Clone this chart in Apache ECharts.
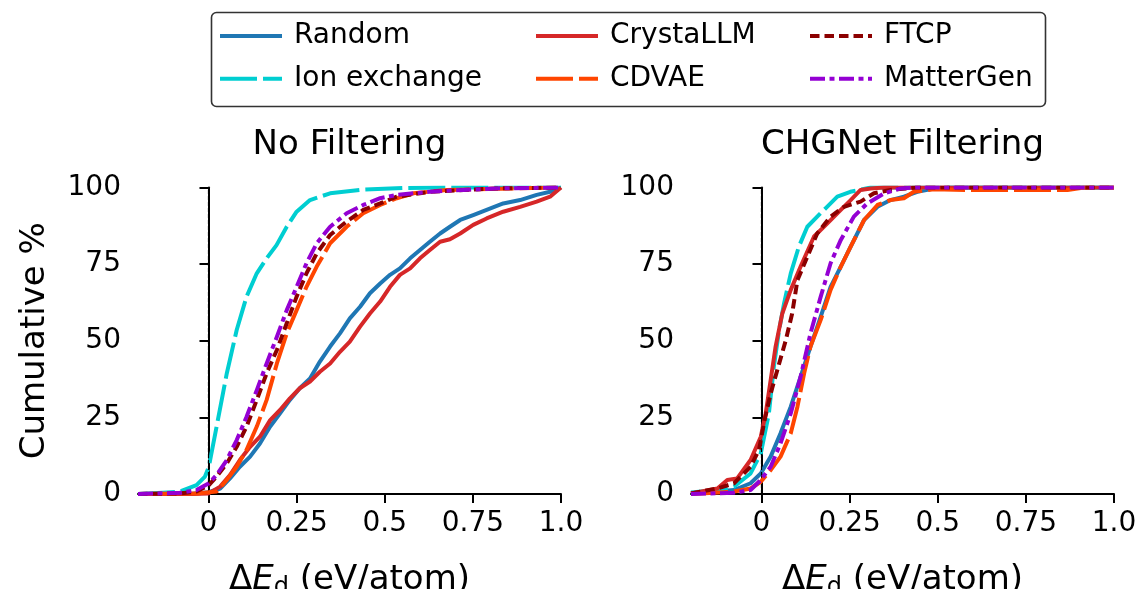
<!DOCTYPE html>
<html>
<head>
<meta charset="utf-8">
<script src="https://cdn.jsdelivr.net/npm/echarts@6/dist/echarts.min.js"></script>
<style>
html,body{margin:0;padding:0;background:#fff;}
#chart{width:1137px;height:589px;}
</style>
</head>
<body>
<div id="chart"></div>
<script>
// ---------- data ----------
const methods = ['Random', 'Ion exchange', 'CrystaLLM', 'CDVAE', 'FTCP', 'MatterGen'];
const panelTitles = ['No Filtering', 'CHGNet Filtering'];
const xTicks = [0, 0.25, 0.5, 0.75, 1.0];
const xTickLabels = ['0', '0.25', '0.5', '0.75', '1.0'];

// No Filtering panel: [ΔEd (eV/atom), cumulative %]
const noFiltRandom = [[-0.2,0],[-0.05,0],[0.001,0.6],[0.033,1.8],[0.061,5.1],[0.089,8.9],[0.118,12.2],[0.146,16.5],[0.175,22],[0.203,26.3],[0.231,30.7],[0.259,34.5],[0.288,37.7],[0.316,43.2],[0.345,48.1],[0.373,52.4],[0.401,57.3],[0.43,61.1],[0.458,65.5],[0.487,68.7],[0.515,71.5],[0.543,73.6],[0.572,76.9],[0.6,79.6],[0.628,82.3],[0.657,85],[0.685,87.2],[0.714,89.4],[0.751,91],[0.789,92.7],[0.836,94.8],[0.884,95.9],[0.931,97.6],[0.969,98.6],[1.0,100]];
const noFiltIon = [[-0.2,0],[-0.13,0.4],[-0.081,0.8],[-0.034,2.9],[-0.01,5.7],[0.001,8.9],[0.023,22],[0.052,39.4],[0.08,53.5],[0.108,64.4],[0.137,72],[0.165,76.9],[0.193,81.2],[0.222,87.2],[0.25,92.1],[0.288,95.9],[0.345,98.1],[0.44,99.3],[0.55,99.8],[0.7,100],[1.0,100]];
const noFiltCrysta = [[-0.2,0],[-0.05,0],[0.0,0.2],[0.033,2.4],[0.061,6.2],[0.089,11.1],[0.118,15.4],[0.146,18.7],[0.175,24.1],[0.203,27.4],[0.231,31.2],[0.259,34.5],[0.288,36.7],[0.316,39.9],[0.345,42.6],[0.373,46.4],[0.401,49.7],[0.43,54.6],[0.458,58.9],[0.487,62.8],[0.515,67.6],[0.543,71.5],[0.572,73.6],[0.6,76.9],[0.628,79.6],[0.657,82.3],[0.685,83.1],[0.714,85],[0.751,87.8],[0.789,89.9],[0.836,92.1],[0.884,93.7],[0.931,95.4],[0.969,97],[1.0,100]];
const noFiltCDVAE = [[-0.2,0],[-0.034,0.2],[0.023,0.8],[0.052,4.6],[0.08,8.9],[0.108,14.4],[0.137,22],[0.165,30.7],[0.194,42.6],[0.222,52.4],[0.25,60],[0.278,67.6],[0.307,74.2],[0.345,81.8],[0.392,87.2],[0.439,91.6],[0.487,94.3],[0.534,96.5],[0.581,98.1],[0.676,99.2],[0.865,99.7],[1.0,100]];
const noFiltFTCP = [[-0.2,0],[-0.08,0.2],[-0.034,0.8],[0.001,2.9],[0.023,5.7],[0.052,10],[0.08,15.4],[0.108,22],[0.137,30.7],[0.165,39.4],[0.194,47],[0.222,55.7],[0.25,64.4],[0.278,72],[0.307,78.5],[0.345,84.5],[0.392,88.9],[0.439,92.7],[0.487,94.8],[0.534,97],[0.628,98.6],[0.723,99.2],[0.817,99.7],[1.0,100]];
const noFiltMatterGen = [[-0.2,0],[-0.081,0.4],[-0.034,1.3],[0.001,3.5],[0.023,6.2],[0.052,11.1],[0.08,17.6],[0.108,25.2],[0.137,33.9],[0.165,42.6],[0.194,51.3],[0.222,60],[0.25,67.6],[0.278,75.3],[0.307,81.8],[0.345,87.2],[0.392,91.6],[0.439,94.3],[0.487,96.5],[0.534,97.6],[0.628,98.6],[0.723,99.2],[0.817,99.7],[1.0,100]];

// CHGNet Filtering panel
const chgRandom = [[-0.2,0.2],[-0.078,1.3],[-0.031,3.5],[-0.002,6.7],[0.026,12.2],[0.054,19.8],[0.083,28.5],[0.111,38.3],[0.139,48.1],[0.168,57.9],[0.196,67.6],[0.225,74.2],[0.253,80.7],[0.291,89.4],[0.329,93.7],[0.366,95.9],[0.404,97],[0.442,98.6],[0.489,99.7],[0.537,100],[1.0,100]];
const chgIon = [[-0.2,0.5],[-0.125,1.3],[-0.078,2.4],[-0.031,6.7],[-0.002,13.3],[0.021,26.3],[0.035,41.5],[0.05,53.5],[0.064,62.2],[0.083,72],[0.106,80.7],[0.13,87.2],[0.158,90.5],[0.186,93.7],[0.215,97],[0.252,98.6],[0.31,100],[1.0,100]];
const chgCrysta = [[-0.2,0.2],[-0.125,1.8],[-0.097,4.6],[-0.069,5.1],[-0.031,11.1],[-0.002,18.7],[0.012,26.3],[0.026,37.2],[0.04,48.1],[0.059,58.9],[0.083,66.6],[0.111,74.2],[0.149,84],[0.187,88.3],[0.225,92.7],[0.253,95.9],[0.281,99.2],[0.31,99.7],[0.348,100],[1.0,100]];
const chgCDVAE = [[-0.2,0],[-0.078,0.8],[-0.031,1.8],[-0.002,4],[0.026,7.8],[0.054,12.2],[0.083,19.8],[0.102,28.5],[0.121,39.4],[0.139,48.1],[0.168,56.8],[0.196,66.6],[0.225,74.2],[0.253,80.7],[0.291,89.4],[0.329,94.3],[0.366,95.9],[0.404,96.5],[0.432,98.6],[0.489,99.4],[0.584,99.2],[0.868,99.2],[0.915,100],[1.0,100]];
const chgFTCP = [[-0.2,0.2],[-0.125,1.8],[-0.078,3.5],[-0.031,8.9],[-0.007,14.4],[0.007,23.1],[0.026,32.8],[0.045,40.5],[0.069,50.2],[0.087,58.9],[0.102,69.8],[0.13,77.4],[0.158,85],[0.196,90.5],[0.234,93.7],[0.281,95.4],[0.319,98.1],[0.366,99.2],[0.442,100],[1.0,100]];
const chgMatterGen = [[-0.2,0],[-0.078,0.4],[-0.031,1.3],[-0.002,4.6],[0.026,8.9],[0.054,16.5],[0.083,26.3],[0.111,38.3],[0.139,52.4],[0.168,64.4],[0.196,75.3],[0.225,82.9],[0.262,90.5],[0.3,94.8],[0.348,98.1],[0.395,99.7],[0.442,100],[1.0,100]];

const panelData = [
  [noFiltRandom, noFiltIon, noFiltCrysta, noFiltCDVAE, noFiltFTCP, noFiltMatterGen],
  [chgRandom, chgIon, chgCrysta, chgCDVAE, chgFTCP, chgMatterGen]
];

// ---------- styles ----------
const colors = ['#1f77b4', '#00CED1', '#d62728', '#FF4500', '#8B0000', '#9400D3'];
const dashes = ['solid', [37, 6], 'solid', [37, 6], [9.5, 5], [15, 4.5, 5, 4.5]];
const FONT = 'DejaVu Sans';
const LW = 4;

const gridLefts = [138, 691];
const gridW = 423, gridTop = 187.5, gridH = 306.5;

const grids = gridLefts.map(l => ({left: l, top: gridTop, width: gridW, height: gridH, containLabel: false, outerBoundsMode: 'none'}));

const xAxes = [0, 1].map(i => ({
  type: 'value', gridIndex: i, min: -0.2, max: 1.0,
  name: '{a|Δ}{e|E}{s|d}{a| (eV/atom)}',
  nameLocation: 'middle', nameGap: 66,
  nameTextStyle: {
    fontFamily: FONT, fontSize: 34, color: '#000',
    rich: {
      a: {fontFamily: FONT, fontSize: 34, lineHeight: 40, color: '#000'},
      e: {fontFamily: FONT, fontSize: 34, lineHeight: 40, fontStyle: 'italic', color: '#000'},
      s: {fontFamily: FONT, fontSize: 24, lineHeight: 24, verticalAlign: 'bottom', color: '#000'}
    }
  },
  axisLine: {show: true, onZero: false, lineStyle: {color: '#000', width: 2}},
  axisTick: {show: true, length: 9, customValues: xTicks, lineStyle: {color: '#000', width: 2}},
  axisLabel: {
    show: true, customValues: xTicks, margin: 16, fontFamily: FONT, fontSize: 28, color: '#000',
    formatter: v => { const k = xTicks.indexOf(v); return k >= 0 ? xTickLabels[k] : ''; }
  },
  splitLine: {show: false}
}));

const yAxes = [0, 1].map(i => ({
  type: 'value', gridIndex: i, min: 0, max: 100, interval: 25,
  name: i === 0 ? 'Cumulative %' : '',
  nameLocation: 'middle', nameGap: 86,
  nameTextStyle: {fontFamily: FONT, fontSize: 34, color: '#000'},
  axisLine: {show: true, lineStyle: {color: '#000', width: 2}},
  axisTick: {show: true, length: 9, lineStyle: {color: '#000', width: 2}},
  axisLabel: {show: true, margin: 17, fontFamily: FONT, fontSize: 28, color: '#000'},
  splitLine: {show: false}
}));

const series = [];
for (let p = 0; p < 2; p++) {
  methods.forEach((m, k) => {
    const s = {
      type: 'line', name: m, xAxisIndex: p, yAxisIndex: p,
      data: panelData[p][k], symbol: 'none', showSymbol: false, smooth: false,
      z: 3 + k,
      lineStyle: {color: colors[k], width: LW, type: dashes[k], cap: 'butt', join: 'round'},
      itemStyle: {color: colors[k]},
      emphasis: {disabled: true},
      animation: false
    };
    if (k === 0) {
      s.markLine = {
        silent: true, symbol: ['none', 'none'], animation: false,
        label: {show: false},
        lineStyle: {color: '#000', width: 1.2, type: [4, 2]},
        emphasis: {disabled: true},
        data: [{xAxis: 0}]
      };
      s.z = 2;
    }
    series.push(s);
  });
}

const legendCommon = {
  orient: 'vertical', top: 21, padding: 0, itemWidth: 62, itemHeight: 14, itemGap: 12.7,
  selectedMode: false,
  itemStyle: {opacity: 0},
  lineStyle: {width: LW},
  textStyle: {fontFamily: FONT, fontSize: 28, lineHeight: 30, color: '#000', padding: [0, 0, 0, 7]}
};
const legends = [
  Object.assign({}, legendCommon, {left: 218, data: [methods[0], methods[1]]}),
  Object.assign({}, legendCommon, {left: 534, data: [methods[2], methods[3]]}),
  Object.assign({}, legendCommon, {left: 808, data: [methods[4], methods[5]]})
];

const chart = echarts.init(document.getElementById('chart'), null, {renderer: 'canvas'});
chart.setOption({
  backgroundColor: '#fff',
  animation: false,
  grid: grids,
  xAxis: xAxes,
  yAxis: yAxes,
  legend: legends,
  series: series,
  graphic: [
    {type: 'rect', left: 209, top: 10, shape: {width: 834, height: 94, r: 5},
     style: {fill: 'none', stroke: '#333', lineWidth: 1.6}, silent: true},
    {type: 'text', x: gridLefts[0] + gridW / 2, y: 145,
     style: {text: panelTitles[0], fontFamily: FONT, fontSize: 34, fill: '#000', align: 'center', verticalAlign: 'middle'}},
    {type: 'text', x: gridLefts[1] + gridW / 2, y: 145,
     style: {text: panelTitles[1], fontFamily: FONT, fontSize: 34, fill: '#000', align: 'center', verticalAlign: 'middle'}}
  ]
});
</script>
</body>
</html>
